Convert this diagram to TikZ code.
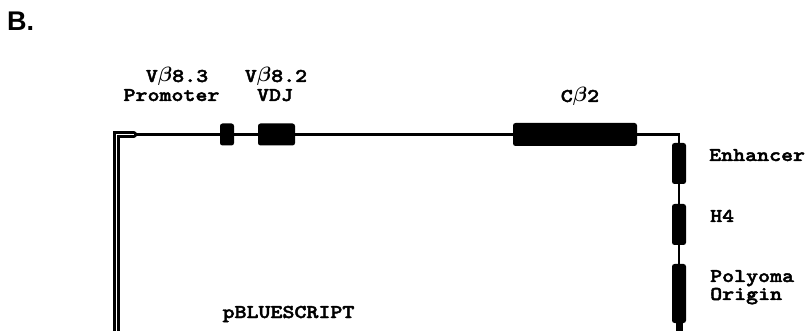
\documentclass[tikz,border=0pt]{standalone}
\usepackage{fontspec}
\setmainfont{Liberation Mono}
\newfontfamily\panelfont{Liberation Sans}
% heavy slab-serif typewriter face for the labels
\newfontfamily\genefont{lmmonolt10-bold.otf}[FakeStretch=1.17, FakeBold=2.2]
\newcommand{\gbeta}{{\boldmath$\beta$}}
\begin{document}
\begin{tikzpicture}[x=1pt,y=-1pt,
  gene/.style={fill=black, draw=none, rounded corners=2.5pt, inner sep=0pt,
               minimum width=#1},
  hgene/.style={gene=#1, minimum height=22pt},
  vgene/.style={gene=14pt, minimum height=#1},
  lbl/.style={font=\genefont\fontsize{19.5}{22}\selectfont, inner sep=0pt},
  backbone/.style={line width=2.3pt}]
  \useasboundingbox (0,0) rectangle (809,331);

  % panel letter
  \node[font=\panelfont\bfseries\fontsize{27}{30}\selectfont, anchor=base west, inner sep=0pt] (panel) at (7,31) {B.};

  % corners of the construct
  \coordinate (bl) at (116.5,331);
  \coordinate (tl) at (116.5,134.5);
  \coordinate (tlend) at (134,134.5);
  \coordinate (tr) at (679,134.5);
  \coordinate (br) at (679,331);

  % elements along the top
  \node[hgene=14pt] (prom) at (227,134.5) {};
  \node[hgene=37pt] (vdj) at (276.5,134.5) {};
  \node[hgene=124pt, minimum height=23pt] (cb) at (575,134.5) {};

  % elements along the right side
  \node[vgene=41pt] (enh) at (679,163.5) {};
  \node[vgene=41pt] (h4) at (679,224.5) {};
  \node[vgene=59pt] (ori) at (679,293.5) {};

  % vector backbone (double line on the left)
  \draw[line width=2.2pt, double, double distance=1.8pt, line cap=round, line join=miter]
    (bl) -- (tl) -- (tlend);
  % insert
  \draw[backbone] (tlend) -- (prom) -- (vdj) -- (cb) -- (tr) -- (enh) -- (h4) -- (ori);
  \draw[line width=7pt] (ori) -- (br);

  % labels
  \node[lbl, anchor=base] (l1) at (177,82) {V\gbeta8.3};
  \node[lbl, anchor=base] (l2) at (171.5,101) {Promoter};
  \node[lbl, anchor=base] (l3) at (276,82) {V\gbeta8.2};
  \node[lbl, anchor=base] (l4) at (275,101) {VDJ};
  \node[lbl, anchor=base] (l5) at (580,102) {C\gbeta2};
  \node[lbl, anchor=base west] (l6) at (709,161) {Enhancer};
  \node[lbl, anchor=base west] (l7) at (710,222) {H4};
  \node[lbl, anchor=base west] (l8) at (710,282) {Polyoma};
  \node[lbl, anchor=base west] (l9) at (710,300) {Origin};
  \node[lbl, anchor=base] (l10) at (288.5,318) {pBLUESCRIPT};
\end{tikzpicture}
\end{document}
